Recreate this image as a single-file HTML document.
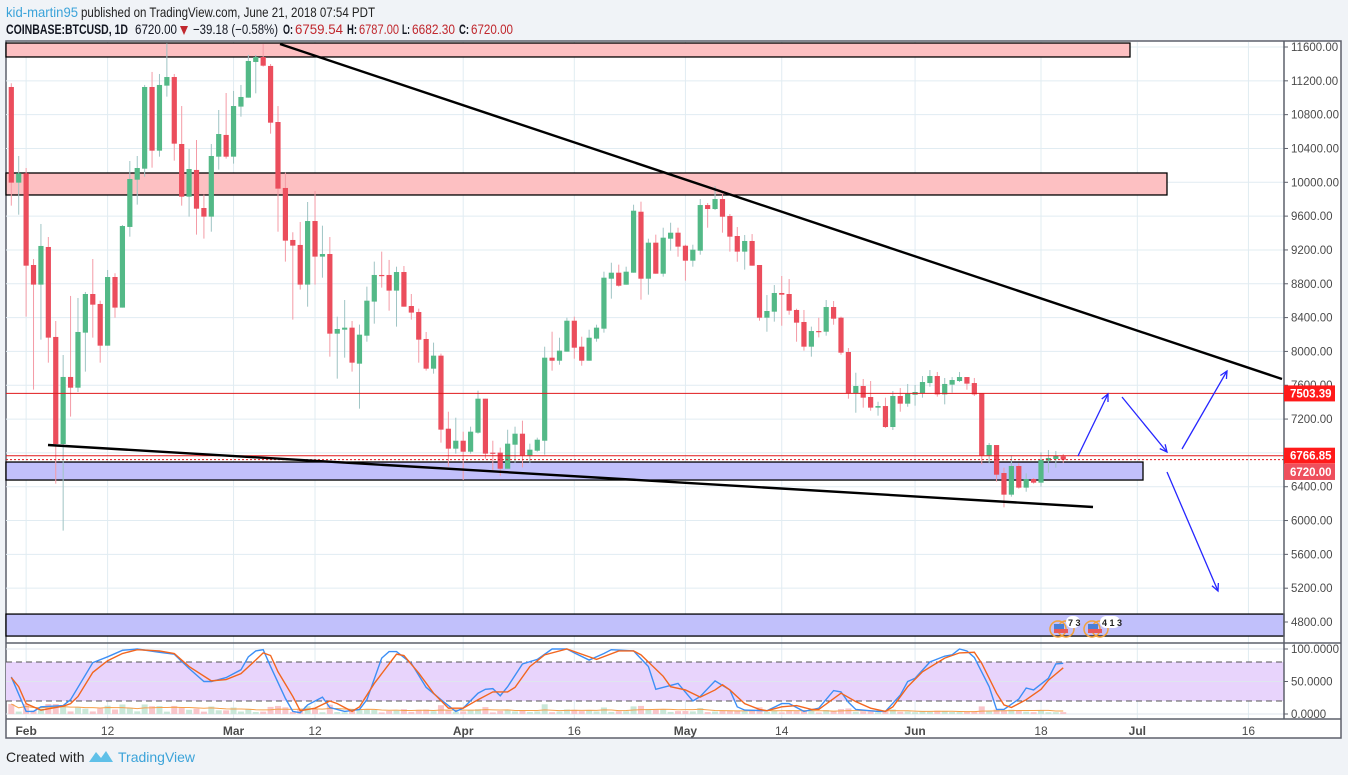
<!DOCTYPE html>
<html><head><meta charset="utf-8"><style>
html,body{margin:0;padding:0;background:#f0f3f7;}
svg{display:block;font-family:"Liberation Sans",sans-serif;}
</style></head><body>
<svg id="chart" width="1348" height="775" viewBox="0 0 1348 775" xmlns="http://www.w3.org/2000/svg">
<rect x="0" y="0" width="1348" height="775" fill="#f0f3f7"/>
<g>
<text x="6" y="17" font-size="14" fill="#3ba3d9" textLength="72" lengthAdjust="spacingAndGlyphs">kid-martin95</text>
<text x="81" y="17" font-size="14" fill="#222" textLength="294" lengthAdjust="spacingAndGlyphs">published on TradingView.com, June 21, 2018 07:54 PDT</text>
<text x="6" y="34" font-size="14" font-weight="bold" fill="#131722" textLength="122" lengthAdjust="spacingAndGlyphs">COINBASE:BTCUSD, 1D</text>
<text x="135" y="34" font-size="14" fill="#131722" textLength="42" lengthAdjust="spacingAndGlyphs">6720.00</text>
<polygon points="180,26 188,26 184,35" fill="#c0272d"/>
<text x="193" y="34" font-size="14" fill="#131722" textLength="85" lengthAdjust="spacingAndGlyphs">−39.18 (−0.58%)</text>
<text x="283" y="34" font-size="14" font-weight="bold" fill="#131722" textLength="10" lengthAdjust="spacingAndGlyphs">O:</text>
<text x="295" y="34" font-size="14" fill="#c0272d" textLength="48" lengthAdjust="spacingAndGlyphs">6759.54</text>
<text x="347" y="34" font-size="14" font-weight="bold" fill="#131722" textLength="10" lengthAdjust="spacingAndGlyphs">H:</text>
<text x="359" y="34" font-size="14" fill="#c0272d" textLength="40" lengthAdjust="spacingAndGlyphs">6787.00</text>
<text x="402" y="34" font-size="14" font-weight="bold" fill="#131722" textLength="8" lengthAdjust="spacingAndGlyphs">L:</text>
<text x="412" y="34" font-size="14" fill="#c0272d" textLength="43" lengthAdjust="spacingAndGlyphs">6682.30</text>
<text x="459" y="34" font-size="14" font-weight="bold" fill="#131722" textLength="10" lengthAdjust="spacingAndGlyphs">C:</text>
<text x="471" y="34" font-size="14" fill="#c0272d" textLength="42" lengthAdjust="spacingAndGlyphs">6720.00</text>
</g>
<rect x="6" y="41" width="1335" height="697" fill="#ffffff" stroke="#5d606b" stroke-width="1.5"/>
<g id="grid"></g>
<g id="zones"></g>
<g id="candles"></g>
<g id="drawings"></g>
<g id="osc"></g>
<g id="axes"></g>
<g>
<text x="6" y="762" font-size="14" fill="#222">Created with</text>
<path d="M89,762 L96,752 L101,758 L106,751 L113,762 Z" fill="#5fc0e8"/>
<text x="118" y="762" font-size="14" fill="#3ba3d9">TradingView</text>
</g>
</svg>
<script>
// ---- data ----
const startDate = "2018-01-30";
const opens  = [11127,9996,10106,9022,8790,9235,8171,6905,7698,7571,8222,8679,8561,8068,8880,8518,9472,10031,10161,11127,10374,11143,11245,10453,9830,10146,9696,9594,10303,10560,10303,10895,11001,11423,11482,11376,10713,9933,9318,9259,8790,9542,9121,9152,8210,8257,8281,7855,8186,8589,8904,8904,8719,8939,8537,8466,8147,7796,7950,7086,6850,6944,6814,7039,7441,6803,6803,6613,6897,7027,6771,6826,6944,7926,7890,7997,8363,8056,7890,8151,8269,8860,8931,8789,8931,9652,8860,9286,8919,9333,9404,9250,9073,9191,9731,9684,9802,9601,9365,9180,9306,9022,8399,8470,8691,8679,8490,8348,8056,8241,8233,8525,8399,7993,7504,7591,7461,7335,7354,7106,7473,7382,7488,7504,7626,7709,7492,7607,7650,7697,7626,7504,6771,6893,6562,6306,6645,6389,6491,6448,6708,6728,6759.54];
const highs  = [11171,10311,10169,9093,9507,9353,8360,7958,8656,8632,8703,9093,8600,8963,8924,9495,10252,10311,11151,11305,11281,11644,11281,10902,10394,10500,9854,10453,10855,11056,11080,11151,11506,11506,11636,11399,10902,10114,9409,9531,9767,9897,9487,9353,8411,8608,8360,8317,8766,9062,9180,9082,9002,9010,8679,8506,8230,8104,7974,7287,7216,7051,7110,7536,7441,6944,6862,7074,7110,7181,6909,6980,8056,8233,8162,8399,8411,8174,8257,8316,8943,9049,9026,9002,9735,9771,9333,9381,9463,9522,9463,9262,9262,9802,9755,9956,9885,9625,9471,9377,9388,9022,8667,8785,8892,8856,8505,8490,8293,8399,8608,8596,8411,8040,7748,7674,7650,7405,7453,7532,7567,7615,7603,7709,7780,7757,7686,7697,7757,7697,7686,7504,6917,6893,6625,6771,6676,6558,6503,6806,6834,6822,6787];
const lows   = [9724,9617,8411,7548,8139,7867,6436,5880,7229,7520,7761,8163,7867,8068,8399,8518,9357,9736,10067,10173,10303,11013,10256,9724,9594,9381,9334,9416,10150,10280,10221,10776,11001,11052,11368,10575,9416,9062,8376,8731,8529,8790,8872,7938,7678,7926,7761,7323,8115,8328,8754,8482,8293,8529,8376,7867,7773,7737,6921,6637,6791,6479,6791,7027,6732,6598,6530,6613,6684,6629,6684,6814,6779,7772,7843,7997,7914,7831,7890,8115,8222,8624,8766,8789,8931,8612,8671,8919,8884,9191,9120,8837,9002,9144,9463,9672,9404,9180,9061,8967,9014,8363,8233,8352,8304,8434,8115,8009,7938,8166,8186,8316,7961,7441,7275,7335,7299,7240,7094,7071,7287,7346,7358,7453,7583,7465,7374,7512,7638,7547,7473,6665,6676,6460,6156,6282,6377,6341,6436,6401,6566,6625,6682.3];
const closes = [9996,10106,9014,8790,9247,8163,6905,7698,7571,8230,8679,8553,8068,8880,8518,9483,10039,10169,11127,10374,11151,11245,10457,9830,10157,9688,9594,10311,10571,10303,10902,11009,11435,11482,11379,10705,9925,9310,9251,8790,9542,9121,9152,8210,8265,8281,7867,8198,8600,8904,8892,8719,8939,8529,8459,8139,7796,7950,7075,6850,6944,6814,7051,7441,6791,6791,6613,6909,7027,6771,6838,6956,7926,7890,8009,8363,8044,7890,8162,8281,8872,8931,8777,8943,9664,8860,9286,8919,9345,9404,9239,9073,9203,9731,9684,9802,9593,9357,9180,9306,9014,8399,8478,8691,8671,8482,8340,8056,8241,8233,8525,8387,7985,7504,7591,7453,7335,7354,7106,7473,7382,7500,7520,7638,7709,7492,7615,7662,7697,7619,7492,6771,6893,6542,6306,6645,6389,6491,6448,6720,6740,6767,6720];
// stochastic RSI: [day index from startDate, value]
const stochKDays = [0,2,3,4,7,8,11,13,15,17,20,22,24,26,27,29,31,32,33,34,35,37,38,39,40,42,43,45,47,48,50,51,52,54,56,58,60,61,63,64,65,66,67,69,71,73,75,76,78,80,81,84,86,87,89,90,92,93,95,97,98,99,102,104,105,107,109,111,112,113,114,117,118,120,121,122,124,126,127,128,129,130,132,133,134,136,137,138,140,141,142];
const stochK     = [57,4,4,11,13,22,79,88,98,100,95,92,70,50,50,56,68,88,97,99,73,24,4,2,14,26,10,4,7,22,86,96,96,78,41,22,4,9,32,38,39,28,42,77,84,100,100,94,83,93,99,97,73,38,44,47,20,27,51,37,11,6,5,16,16,4,9,36,34,18,7,4,4,29,50,55,80,89,91,100,97,87,42,7,7,23,40,37,55,77,78];
const stochDDays = [0,1,2,4,7,8,9,11,13,15,17,20,22,24,27,29,31,33,34,35,36,38,39,41,43,44,46,47,49,52,53,55,57,59,61,63,65,67,68,70,72,75,79,82,84,85,88,89,91,93,95,96,97,99,101,102,104,106,108,109,112,114,116,118,119,121,123,126,128,130,131,133,134,135,137,139,140,142];
const stochD     = [56,42,16,6,12,16,27,64,82,93,99,97,93,73,51,53,62,83,94,90,65,27,5,9,20,16,4,11,47,92,90,63,32,9,9,22,34,34,41,73,91,100,84,97,97,91,58,42,37,26,37,45,37,16,7,5,11,13,7,7,32,19,9,4,11,42,65,86,94,95,78,32,14,10,22,38,52,71];
const priceTicks = [11600,11200,10800,10400,10000,9600,9200,8800,8400,8000,7600,7200,6800,6400,6000,5600,5200,4800];
const timeTickDays = [2,13,30,41,61,76,91,104,122,139,152,167];
const timeTickLabels = ["Feb","12","Mar","12","Apr","16","May","14","Jun","18","Jul","16"];
const timeTickBold = [true,false,true,false,true,false,true,false,true,false,true,false];
const zonePrices = [[11647,11482,1130],[10110,9850,1167],[6692,6479,1143],[4894,4634,1284]];
const zoneColors = ["pink","pink","blue","blue"];
const levelPrices = [7503.39,6766.85,6720.00];
const levelLabels = ["7503.39","6766.85","6720.00"];
const oscTicks = [100,50,0];
const oscTickLabels = ["100.0000","50.0000","0.0000"];

// ---- scales ----
const NS = "http://www.w3.org/2000/svg";
function xDay(d){ return 11.3 + d*7.408; }
function yPrice(p){ return 47 + (11600 - p)*0.08456; }
function yOsc(v){ return 714 - v*0.65; }
function mk(tag, attrs, parent){ const e=document.createElementNS(NS,tag); for(const k in attrs) e.setAttribute(k,attrs[k]); parent.appendChild(e); return e; }

const grid=document.getElementById('grid'), zones=document.getElementById('zones'), cg=document.getElementById('candles');
const dg=document.getElementById('drawings'), osc=document.getElementById('osc'), axes=document.getElementById('axes');

priceTicks.forEach(p=>{
  const l=mk('line',{x1:6,x2:1284,y1:yPrice(p),y2:yPrice(p),stroke:'#e1ecf2','stroke-width':1},grid);
  
  
});
timeTickDays.forEach(d=>{
  const l=mk('line',{x1:xDay(d),x2:xDay(d),y1:42,y2:719,stroke:'#e1ecf2','stroke-width':1},grid);
  
  
});

zonePrices.forEach((z,i)=>{
  const y1=yPrice(z[0]), y2=yPrice(z[1]);
  const r=mk('rect',{x:6,y:y1,width:z[2]-6,height:y2-y1,fill:zoneColors[i]==='pink'?'#fdc0c2':'#c1c0fb',stroke:'#000','stroke-width':1.3},zones);
  
  
});

for(let i=0;i<opens.length;i++){
  const o=opens[i],c=closes[i],h=Math.max(highs[i],o,c),lo=Math.min(lows[i],o,c);
  const up=c>=o, x=xDay(i);
  const w=mk('line',{x1:x,x2:x,y1:yPrice(h),y2:yPrice(lo),stroke:up?'#9fc4c4':'#f49ba6','stroke-width':1},cg);
  
  
  const yt=yPrice(Math.max(o,c)), yb=yPrice(Math.min(o,c));
  const b=mk('rect',{x:x-2.6,y:yt,width:5.2,height:Math.max(1.2,yb-yt),fill:up?'#53b987':'#eb4d5c'},cg);
  
  
}

levelPrices.forEach((p,i)=>{
  const y=yPrice(p);
  const l=mk('line',{x1:6,x2:1284,y1:y,y2:y,stroke:'#e0191c','stroke-width':1},dg);
  if(i===2) l.setAttribute('stroke-dasharray','2,2');
  
  
});

const tl1=mk('line',{x1:280,y1:44,x2:1282,y2:379,stroke:'#000','stroke-width':2.4},dg);


const tl2=mk('line',{x1:48,y1:445,x2:1093,y2:507,stroke:'#000','stroke-width':2.4},dg);



[[1078,456,1108,394],[1122,397,1167,452],[1182,449,1227,371],[1167,472,1218,591]].forEach(a=>{
  const g=mk('g',{stroke:'#2626ff','stroke-width':1.3,fill:'none'},dg);
  
  
  mk('line',{x1:a[0],y1:a[1],x2:a[2],y2:a[3]},g);
  const ang=Math.atan2(a[3]-a[1],a[2]-a[0]), L=8;
  const p1=[a[2]-L*Math.cos(ang-0.45),a[3]-L*Math.sin(ang-0.45)], p2=[a[2]-L*Math.cos(ang+0.45),a[3]-L*Math.sin(ang+0.45)];
  mk('polyline',{points:`${p1[0]},${p1[1]} ${a[2]},${a[3]} ${p2[0]},${p2[1]}`},g);
});

[[1062,"7 3"],[1096,"4 1 3"]].forEach(ev=>{
  const g=mk('g',{},dg);
  
  
  mk('circle',{cx:ev[0]-4,cy:629,r:8,fill:'none',stroke:'#f2a13a','stroke-width':1.5},g);
  mk('circle',{cx:ev[0]+4,cy:629,r:8,fill:'none',stroke:'#f2a13a','stroke-width':1.5},g);
  mk('rect',{x:ev[0]-8,y:624,width:10,height:5,fill:'#4a7fd6'},g);
  mk('rect',{x:ev[0]-8,y:629,width:14,height:4,fill:'#e85a5a'},g);
  mk('rect',{x:ev[0]+4,y:616,width:ev[1].length>3?20:14,height:12,rx:6,fill:'#fff'},g);
  const t=mk('text',{x:ev[0]+6,y:626,'font-size':9,'font-weight':'bold',fill:'#222'},g);
  t.textContent=ev[1];
});

const sep=mk('line',{x1:6,x2:1341,y1:643,y2:643,stroke:'#5d606b','stroke-width':1.5},osc);


const band=mk('rect',{x:6,y:yOsc(80),width:1278,height:yOsc(20)-yOsc(80),fill:'#e8d4fc'},osc);


oscTicks.forEach(v=>{
  const l=mk('line',{x1:6,x2:1284,y1:yOsc(v),y2:yOsc(v),stroke:'#dfe6ee','stroke-width':1},osc);
  
  
});
[80,20].forEach(v=>{
  const l=mk('line',{x1:6,x2:1284,y1:yOsc(v),y2:yOsc(v),stroke:'#555','stroke-width':1,'stroke-dasharray':'6,4'},osc);
  
  
});
const volH=[];
for(let i=0;i<opens.length;i++){
  const h=Math.min(10,1.5+Math.abs(closes[i]-opens[i])/120);
  volH.push(h);
  const up=closes[i]>=opens[i];
  const r=mk('rect',{x:xDay(i)-3,y:714-h,width:6,height:h,fill:up?'#c9e7d8':'#f8c5ca'},osc);
  
  
}
let maPts=[];
for(let i=0;i<volH.length;i++){ let s=0,n=0; for(let j=Math.max(0,i-9);j<=i;j++){s+=volH[j];n++;} maPts.push(`${xDay(i)},${714-s/n}`); }
const ma=mk('polyline',{points:maPts.join(' '),fill:'none',stroke:'#f5a04b','stroke-width':1},osc);


const kl=mk('polyline',{points:stochKDays.map((d,i)=>`${xDay(d)},${yOsc(stochK[i])}`).join(' '),fill:'none',stroke:'#3d8ff5','stroke-width':1.4},osc);


const dl=mk('polyline',{points:stochDDays.map((d,i)=>`${xDay(d)},${yOsc(stochD[i])}`).join(' '),fill:'none',stroke:'#f2661f','stroke-width':1.4},osc);



const pa=mk('line',{x1:1284,x2:1284,y1:41,y2:719,stroke:'#5d606b','stroke-width':1.5},axes);


const ta=mk('line',{x1:6,x2:1341,y1:719,y2:719,stroke:'#5d606b','stroke-width':1.5},axes);


priceTicks.forEach(p=>{
  const y=yPrice(p);
  mk('line',{x1:1284,x2:1288,y1:y,y2:y,stroke:'#5d606b'},axes);
  const t=mk('text',{x:1291,y:y+4,'font-size':11.5,fill:'#4a4a4a'},axes);
  t.textContent=p.toFixed(2);
  
  
});
oscTicks.forEach((v,i)=>{
  const y=yOsc(v);
  mk('line',{x1:1284,x2:1288,y1:y,y2:y,stroke:'#5d606b'},axes);
  const t=mk('text',{x:1291,y:y+4,'font-size':11.5,fill:'#4a4a4a'},axes);
  t.textContent=oscTickLabels[i];
  
  
});
levelPrices.forEach((p,i)=>{
  const y=yPrice(p);
  const top = i===2 ? y+4.3 : y-8;
  const r=mk('rect',{x:1284,y:top,width:51,height:16,fill:i===2?'#ee4f5d':'#ff1a1a'},axes);
  
  
  const t=mk('text',{x:1290,y:top+12,'font-size':11.5,'font-weight':'bold',fill:'#fff'},axes);
  t.textContent=levelLabels[i];
  
  
});
timeTickDays.forEach((d,i)=>{
  const t=mk('text',{x:xDay(d),y:735,'font-size':12,'text-anchor':'middle',fill:'#4a4a4a','font-weight':timeTickBold[i]?'bold':'normal'},axes);
  t.textContent=timeTickLabels[i];
  
  
});
</script>
</body></html>
